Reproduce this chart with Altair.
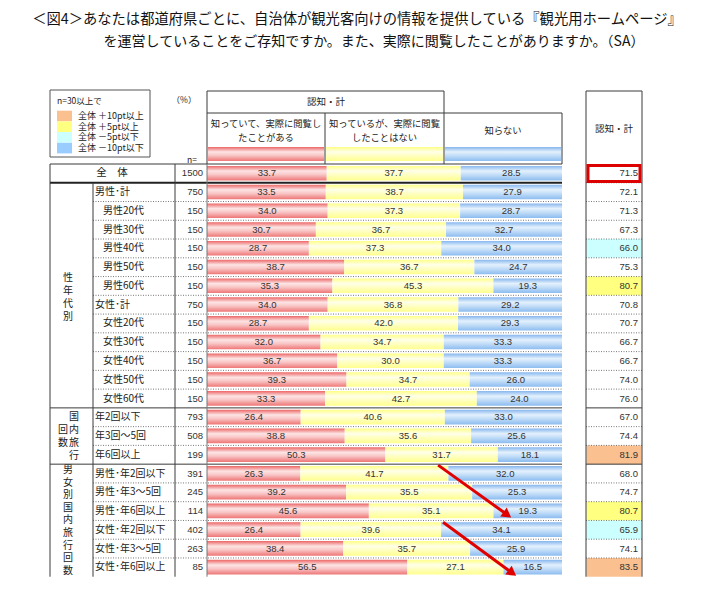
import altair as alt
import pandas as pd

# ---------------- data ----------------
title_lines = [
    "＜図4＞あなたは都道府県ごとに、自治体が観光客向けの情報を提供している『観光用ホームページ』",
    "を運営していることをご存知ですか。また、実際に閲覧したことがありますか。（SA）",
]
header_group = "認知・計"
header_cells = [
    ["知っていて、実際に閲覧し", "たことがある"],
    ["知っているが、実際に閲覧", "したことはない"],
    ["知らない"],
]
right_header = "認知・計"
legend_title = "n=30以上で"
legend_labels = ["全体 ＋10pt以上", "全体 ＋5pt以上", "全体 －5pt以下", "全体 －10pt以下"]
legend_colors = ["#fac090", "#ffff80", "#ccffff", "#99ccff"]
group_names = ["性年代別", "国内旅行", "回数", "男女別国内旅行回数"]

labels = ["全　体", "男性･計", "男性20代", "男性30代", "男性40代", "男性50代", "男性60代",
          "女性･計", "女性20代", "女性30代", "女性40代", "女性50代", "女性60代",
          "年2回以下", "年3回～5回", "年6回以上",
          "男性･年2回以下", "男性･年3～5回", "男性･年6回以上",
          "女性･年2回以下", "女性･年3～5回", "女性･年6回以上"]
n_values = [1500, 750, 150, 150, 150, 150, 150, 750, 150, 150, 150, 150, 150,
            793, 508, 199, 391, 245, 114, 402, 263, 85]
seen = [33.7, 33.5, 34.0, 30.7, 28.7, 38.7, 35.3, 34.0, 28.7, 32.0, 36.7, 39.3, 33.3,
        26.4, 38.8, 50.3, 26.3, 39.2, 45.6, 26.4, 38.4, 56.5]
not_seen = [37.7, 38.7, 37.3, 36.7, 37.3, 36.7, 45.3, 36.8, 42.0, 34.7, 30.0, 34.7, 42.7,
            40.6, 35.6, 31.7, 41.7, 35.5, 35.1, 39.6, 35.7, 27.1]
unaware = [28.5, 27.9, 28.7, 32.7, 34.0, 24.7, 19.3, 29.2, 29.3, 33.3, 33.3, 26.0, 24.0,
           33.0, 25.6, 18.1, 32.0, 25.3, 19.3, 34.1, 25.9, 16.5]
recognition = [71.5, 72.1, 71.3, 67.3, 66.0, 75.3, 80.7, 70.8, 70.7, 66.7, 66.7, 74.0, 76.0,
               67.0, 74.4, 81.9, 68.0, 74.7, 80.7, 65.9, 74.1, 83.5]

arrow_start_x = [65.1, 66.5]
arrow_start_row = [16.05, 19.1]
arrow_end_x = [84.6, 86.0]
arrow_end_row = [18.7, 21.8]

# ---------------- tables ----------------
df = pd.DataFrame({"row": list(range(len(labels))), "label": labels, "n": n_values,
                   "a": seen, "b": not_seen, "c": unaware, "r": recognition})
df["indent"] = df["label"].str.endswith("代")


def highlight(v):
    d = round(v - recognition[0], 1)
    if d >= 10:
        return legend_labels[0]
    if d >= 5:
        return legend_labels[1]
    if d <= -10:
        return legend_labels[3]
    if d <= -5:
        return legend_labels[2]
    return None


df["hl"] = [highlight(v) if n >= 30 else None for v, n in zip(recognition, n_values)]

solid_b = [0, 13, 16]
dotted_b = [i for i in range(2, len(labels)) if i not in solid_b]
bdf_dot = pd.DataFrame({"b": dotted_b})
bdf_dot_r = pd.DataFrame({"b": [i for i in range(1, len(labels)) if i not in solid_b]})
bdf_solid = pd.DataFrame({"b": solid_b})
bdf_thick = pd.DataFrame({"b": [1]})
bdf_solid_r = pd.DataFrame({"b": [13, 16]})
adf = pd.DataFrame({"x0": arrow_start_x, "y0": arrow_start_row,
                    "x1": arrow_end_x, "y1": arrow_end_row})

# ---------------- layout helpers ----------------
JP = "Noto Sans CJK JP"
NUM = "Liberation Sans"
ROWH = 18.76


def P(v):
    return v - 8


one = pd.DataFrame({"k": [0]})
X = alt.Scale(domain=[0, 100], range=[P(207), P(562)], nice=False, zero=False)
Y = alt.Scale(domain=[0, 22], range=[P(164), P(164 + 22 * ROWH)], nice=False, zero=False)

LINE = "#3a3a3a"


def hline(y, x1, x2, color=LINE, w=1.0):
    return alt.Chart(one).mark_rule(color=color, strokeWidth=w).encode(
        x=alt.value(P(x1)), x2=alt.value(P(x2)), y=alt.value(P(y)))


def vline(x, y1, y2, color=LINE, w=1.0):
    return alt.Chart(one).mark_rule(color=color, strokeWidth=w).encode(
        x=alt.value(P(x)), y=alt.value(P(y1)), y2=alt.value(P(y2)))


def txt(t, x, y, size, align="center", font=JP, color="#222", lh=None):
    # for a list of lines, y is the centre of the first line
    kw = dict(text=t, align=align, baseline="middle", fontSize=size, font=font, color=color)
    if lh:
        kw["lineHeight"] = lh
    return alt.Chart(one).mark_text(**kw).encode(x=alt.value(P(x)), y=alt.value(P(y)))


def box(x1, y1, x2, y2, fill="white", stroke=None, sw=1.0):
    kw = dict(fill=fill)
    if stroke:
        kw.update(stroke=stroke, strokeWidth=sw)
    return alt.Chart(one).mark_rect(**kw).encode(
        x=alt.value(P(x1)), x2=alt.value(P(x2)), y=alt.value(P(y1)), y2=alt.value(P(y2)))


def grad(c_edge_top, c_mid, c_mid2, c_edge_bot):
    return alt.LinearGradient(gradient="linear", x1=0, x2=0, y1=0, y2=1, stops=[
        alt.GradientStop(offset=0, color=c_edge_top),
        alt.GradientStop(offset=0.35, color=c_mid),
        alt.GradientStop(offset=0.6, color=c_mid2),
        alt.GradientStop(offset=1, color=c_edge_bot)])


G_RED = grad("#ec6666", "#fde4e4", "#f9c6c6", "#ee7676")
G_YEL = grad("#ffff86", "#ffffea", "#ffffc4", "#ffff8e")
G_BLU = grad("#86b6ee", "#e4f1fd", "#c4def8", "#8cbcf0")
GRADS = [G_RED, G_YEL, G_BLU]

layers = []

# title
layers.append(txt(title_lines[0], 357, 20, 14.3, color="#111"))
layers.append(txt(title_lines[1], 374, 42, 14.0, color="#111"))

# legend box
layers.append(box(50, 90, 150, 157, stroke="#555", sw=1))
layers.append(txt(legend_title, 57, 101, 8.5, align="left"))
for i, col in enumerate(legend_colors):
    cy = 116 + i * 10.7
    layers.append(box(57, cy - 5.3, 72, cy + 5.3, fill=col))
layers.append(txt(legend_labels, 78, 116, 9, align="left", lh=10.7))
layers.append(txt("（%）", 184, 100, 8.5))
layers.append(txt("n=", 192, 160, 8.5))

# header boxes
layers.append(hline(91, 207, 444))
layers.append(hline(113, 207, 562))
layers.append(vline(207, 91, 164))
layers.append(vline(444, 91, 164))
layers.append(vline(325, 113, 164))
layers.append(vline(562, 113, 164))
layers.append(txt(header_group, 326, 102, 9.5))
col_edges = [207, 325, 444, 562]
for i, lines in enumerate(header_cells):
    cx = (col_edges[i] + col_edges[i + 1]) / 2
    y_first = 124 if len(lines) == 2 else 131
    layers.append(txt(lines, cx, y_first, 9.3, lh=14))
    layers.append(alt.Chart(one).mark_rect(color=GRADS[i]).encode(
        x=alt.value(P(col_edges[i] + 1)), x2=alt.value(P(col_edges[i + 1] - 1)),
        y=alt.value(P(147)), y2=alt.value(P(161))))

# right header box
layers.append(hline(91, 586, 642))
layers.append(txt(right_header, 614, 129, 9.5))

# row highlight cells (right column)
layers.append(alt.Chart(df).transform_filter("datum.hl != null").transform_calculate(
    y0="datum.row", y1="datum.row + 1").mark_rect().encode(
    x=alt.value(P(586.5)), x2=alt.value(P(641.5)),
    y=alt.Y("y0:Q", scale=Y, axis=None), y2="y1:Q",
    color=alt.Color("hl:N", scale=alt.Scale(domain=legend_labels, range=legend_colors),
                    legend=None)))

# bars
base = alt.Chart(df).transform_calculate(
    tot="datum.a + datum.b + datum.c",
    s0="0",
    s1="datum.a / datum.tot * 100",
    s2="(datum.a + datum.b) / datum.tot * 100",
    s3="(datum.a + datum.b + datum.c) / datum.tot * 100",
    yt="datum.row + 0.1",
    yb="datum.row + 0.88",
    yc="datum.row + 0.5",
)
for i, (lo, hi, val) in enumerate([("s0", "s1", "a"), ("s1", "s2", "b"), ("s2", "s3", "c")]):
    layers.append(base.mark_rect(color=GRADS[i]).encode(
        x=alt.X(f"{lo}:Q", scale=X, axis=None), x2=f"{hi}:Q",
        y=alt.Y("yt:Q", scale=Y, axis=None), y2="yb:Q"))
    layers.append(base.transform_calculate(mid=f"(datum.{lo} + datum.{hi}) / 2").mark_text(
        fontSize=9.5, font=NUM, color="#333", baseline="middle").encode(
        x=alt.X("mid:Q", scale=X, axis=None), y=alt.Y("yc:Q", scale=Y, axis=None),
        text=alt.Text(f"{val}:Q", format=".1f")))

# row separators
layers.append(alt.Chart(bdf_dot).mark_rule(color="#555", strokeWidth=0.8, strokeDash=[1, 1.5]).encode(
    y=alt.Y("b:Q", scale=Y, axis=None), x=alt.value(P(93)), x2=alt.value(P(562))))
layers.append(alt.Chart(bdf_dot_r).mark_rule(color="#555", strokeWidth=0.8, strokeDash=[1, 1.5]).encode(
    y=alt.Y("b:Q", scale=Y, axis=None), x=alt.value(P(586)), x2=alt.value(P(642))))
layers.append(alt.Chart(bdf_solid).mark_rule(color=LINE, strokeWidth=1).encode(
    y=alt.Y("b:Q", scale=Y, axis=None), x=alt.value(P(50)), x2=alt.value(P(562))))
layers.append(alt.Chart(bdf_thick).mark_rule(color="#222", strokeWidth=2).encode(
    y=alt.Y("b:Q", scale=Y, axis=None), x=alt.value(P(50)), x2=alt.value(P(562))))
layers.append(alt.Chart(bdf_solid_r).mark_rule(color=LINE, strokeWidth=1).encode(
    y=alt.Y("b:Q", scale=Y, axis=None), x=alt.value(P(586)), x2=alt.value(P(642))))

# vertical table lines
bottom = 164 + 22 * ROWH
layers.append(vline(50, 164, bottom))
layers.append(vline(93, 164 + ROWH, bottom))
layers.append(vline(175, 164, bottom))
layers.append(vline(207, 164, bottom, color="#777"))
layers.append(vline(586, 91, bottom))
layers.append(vline(642, 91, bottom))

# row labels
lab = alt.Chart(df)
layers.append(lab.transform_filter("datum.row == 0").transform_calculate(yc="datum.row + 0.5").mark_text(
    fontSize=10.5, font=JP, color="#222", baseline="middle", align="center").encode(
    x=alt.value(P(112)), y=alt.Y("yc:Q", scale=Y, axis=None), text="label:N"))
layers.append(lab.transform_filter("datum.row > 0 && !datum.indent").transform_calculate(
    yc="datum.row + 0.5").mark_text(
    fontSize=10, font=JP, color="#222", baseline="middle", align="left").encode(
    x=alt.value(P(95)), y=alt.Y("yc:Q", scale=Y, axis=None), text="label:N"))
layers.append(lab.transform_filter("datum.indent").transform_calculate(yc="datum.row + 0.5").mark_text(
    fontSize=10, font=JP, color="#222", baseline="middle", align="left").encode(
    x=alt.value(P(103)), y=alt.Y("yc:Q", scale=Y, axis=None), text="label:N"))
layers.append(lab.transform_calculate(yc="datum.row + 0.5").mark_text(
    fontSize=9.5, font=NUM, color="#333", baseline="middle", align="right").encode(
    x=alt.value(P(203)), y=alt.Y("yc:Q", scale=Y, axis=None), text=alt.Text("n:Q", format="d")))

# right column values
layers.append(lab.transform_calculate(yc="datum.row + 0.5").mark_text(
    fontSize=9.5, font=NUM, color="#333", baseline="middle", align="right").encode(
    x=alt.value(P(638)), y=alt.Y("yc:Q", scale=Y, axis=None), text=alt.Text("r:Q", format=".1f")))

# red frame for total
layers.append(alt.Chart(one).mark_rect(fill=None, stroke="#dd0000", strokeWidth=3).encode(
    x=alt.value(P(588)), x2=alt.value(P(640)), y=alt.value(P(165.5)), y2=alt.value(P(181.5))))

# vertical group labels (one multi-line text each)
layers.append(txt(list(group_names[0]), 68, 278, 10, lh=13.1))
layers.append(txt(list(group_names[1]), 74, 417, 10, lh=13.0))
layers.append(txt(list(group_names[2]), 63, 430, 10, lh=13.0))
layers.append(txt(list(group_names[3]), 68, 470, 10, lh=12.6))

# arrows
layers.append(alt.Chart(adf).mark_rule(color="#e00000", strokeWidth=3).encode(
    x=alt.X("x0:Q", scale=X, axis=None), x2="x1:Q",
    y=alt.Y("y0:Q", scale=Y, axis=None), y2="y1:Q"))
layers.append(alt.Chart(adf).mark_point(shape="triangle-up", filled=True, size=120,
                                        color="#e00000", opacity=1, angle=126).encode(
    x=alt.X("x1:Q", scale=X, axis=None), y=alt.Y("y1:Q", scale=Y, axis=None)))

chart = alt.layer(*layers).properties(
    width=695, height=575, autosize=alt.AutoSizeParams(type="none"), padding=0,
    background="white",
).configure_view(strokeWidth=0)

chart.save("out.html", embed_options={"renderer": "svg", "actions": False})
